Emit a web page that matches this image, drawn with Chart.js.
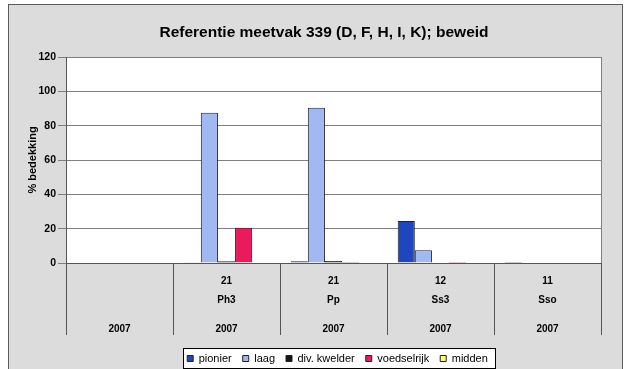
<!DOCTYPE html>
<html>
<head>
<meta charset="utf-8">
<script src="https://cdn.jsdelivr.net/npm/chart.js@4.4.1/dist/chart.umd.min.js"></script>
<style>
  html, body { margin: 0; padding: 0; background: #ffffff; }
  #wrap { width: 632px; height: 369px; }
</style>
</head>
<body>
<div id="wrap"><canvas id="chart" width="632" height="369"></canvas></div>
<script>
// category rows (inner to outer)
const counts = ['', '21', '21', '12', '11'];
const vegTypes = ['', 'Ph3', 'Pp', 'Ss3', 'Sso'];
const years = ['2007', '2007', '2007', '2007', '2007'];

// % bedekking per zone
const pionier = [0, 0.5, 1, 24.5, 0.6];
const laag = [0, 87.5, 90.5, 7.5, 0];
const divKwelder = [0, 1, 1.2, 0, 0];
const voedselrijk = [0, 20.5, 0.6, 0.6, 0];
const midden = [0, 0, 0, 0, 0];

const yTicks = [0, 20, 40, 60, 80, 100, 120];

const FONT = "'Liberation Sans', Arial, sans-serif";
const LEGEND_FONT = 11;
const LEGEND_PAD = 11;

// multi-line labels, blank lines keep the rows apart
const labels = counts.map((c, i) => [c, '', vegTypes[i], '', '', years[i]]);

const frame = {
    id: 'frame',
    afterLayout(chart) {
        // title a bit left of the plot centre, legend a bit right and lower
        const t = chart.titleBlock;
        t.left -= 9.5;
        t.right -= 9.5;
        const lg = chart.legend;
        const h = lg.bottom - lg.top;
        lg.left += 4;
        lg.right += 4;
        lg.top = 358.5 - LEGEND_PAD - LEGEND_FONT / 2;
        lg.bottom = lg.top + h;
    },
    beforeDraw(chart) {
        const ctx = chart.ctx;
        const a = chart.chartArea;
        ctx.save();
        ctx.fillStyle = '#ffffff';
        ctx.fillRect(0, 0, chart.width, chart.height);
        ctx.fillStyle = '#dcdcdc';
        ctx.fillRect(8, 4, 615, 370);
        ctx.strokeStyle = '#5a5a5a';
        ctx.lineWidth = 1;
        ctx.strokeRect(8.5, 4.5, 614, 380);
        ctx.fillStyle = '#ffffff';
        ctx.fillRect(a.left, a.top, a.right - a.left, a.bottom - a.top);
        ctx.strokeStyle = '#808080';
        ctx.strokeRect(a.left + 0.5, a.top + 0.5, a.right - a.left, a.bottom - a.top);

        // box around the legend
        const boxes = chart.legend.legendHitBoxes;
        if (boxes && boxes.length) {
            const last = boxes[boxes.length - 1];
            const l = Math.round(boxes[0].left - 4);
            const r = Math.round(last.left + last.width + 7);
            const t = Math.round(boxes[0].top - 5);
            const b = Math.round(boxes[0].top + boxes[0].height + 4);
            ctx.fillStyle = '#ffffff';
            ctx.fillRect(l, t, r - l, b - t);
            ctx.strokeStyle = '#000000';
            ctx.strokeRect(l + 0.5, t + 0.5, r - l, b - t);
        }
        ctx.restore();
    }
};

function series(label, data, color) {
    return {
        label: label,
        data: data,
        backgroundColor: color,
        borderColor: '#222222',
        borderWidth: 1,
        borderSkipped: 'bottom',
        categoryPercentage: 0.8,
        barPercentage: 1.0
    };
}

const ctx = document.getElementById('chart');

new Chart(ctx, {
    type: 'bar',
    data: {
        labels: labels,
        datasets: [
            series('pionier', pionier, '#1f45bf'),
            series('laag', laag, '#a2b8f2'),
            series('div. kwelder', divKwelder, '#151515'),
            series('voedselrijk', voedselrijk, '#ea1a5c'),
            series('midden', midden, '#ffff66')
        ]
    },
    options: {
        responsive: false,
        animation: false,
        devicePixelRatio: 1,
        layout: {
            padding: { left: 20, right: 31, top: 12, bottom: 2 }
        },
        plugins: {
            title: {
                display: true,
                text: 'Referentie meetvak 339 (D, F, H, I, K); beweid',
                color: '#000000',
                fullSize: false,
                font: { family: FONT, size: 15.5, weight: 'bold' },
                padding: { top: 11, bottom: 15.4 }
            },
            legend: {
                position: 'bottom',
                fullSize: false,
                labels: {
                    color: '#000000',
                    font: { family: FONT, size: LEGEND_FONT },
                    boxWidth: 6,
                    boxHeight: 6,
                    padding: LEGEND_PAD
                }
            },
            tooltip: { enabled: false }
        },
        scales: {
            x: {
                offset: true,
                afterFit(scale) { scale.height = 72; },
                border: { color: '#555555' },
                grid: {
                    offset: true,
                    drawOnChartArea: false,
                    tickLength: 72,
                    color: '#555555'
                },
                ticks: {
                    autoSkip: false,
                    maxRotation: 0,
                    minRotation: 0,
                    padding: -59,
                    color: '#000000',
                    font: { family: FONT, size: 10, weight: 'bold', lineHeight: 0.96 }
                }
            },
            y: {
                min: 0,
                max: 120,
                afterFit(scale) { scale.width = 46; },
                afterBuildTicks(scale) {
                    scale.ticks = yTicks.map(v => ({ value: v }));
                },
                border: { color: '#555555' },
                grid: {
                    color: '#808080',
                    tickLength: 8
                },
                title: {
                    display: true,
                    text: '% bedekking',
                    color: '#000000',
                    font: { family: FONT, size: 11, weight: 'bold' },
                    padding: { top: 6, bottom: 0 }
                },
                ticks: {
                    padding: 2,
                    color: '#000000',
                    font: { family: FONT, size: 10.5, weight: 'bold' }
                }
            }
        }
    },
    plugins: [frame]
});
</script>
</body>
</html>
